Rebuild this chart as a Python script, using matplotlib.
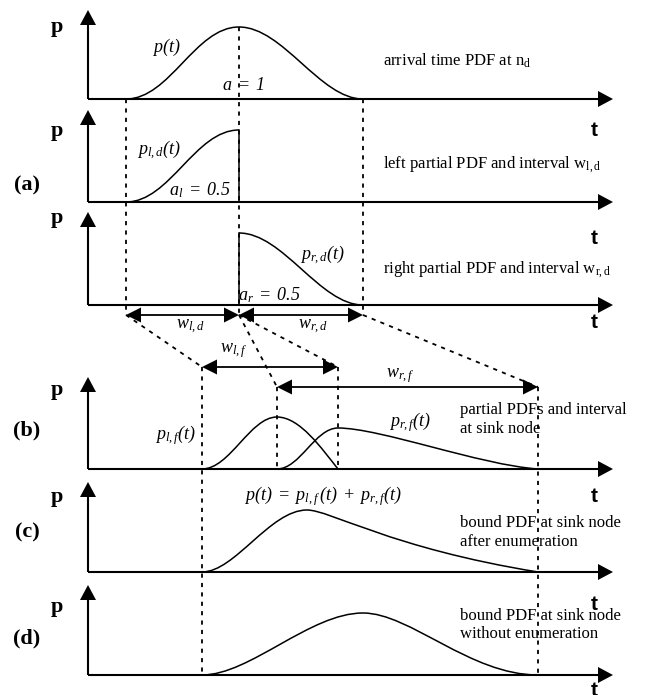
"""
Partial arrival-time PDFs: left/right split at n_d and bound PDF at the sink.
Schematic drawn in pixel coordinates of a 652x695 canvas.
"""

import numpy as np
import matplotlib.pyplot as plt
from matplotlib.path import Path
from matplotlib.patches import PathPatch

plt.rcParams["font.family"] = ["Liberation Serif", "DejaVu Serif"]
plt.rcParams["mathtext.fontset"] = "custom"
# curve labels are italic throughout, digits and brackets included
plt.rcParams["mathtext.rm"] = "Liberation Serif:italic"
plt.rcParams["mathtext.it"] = "Liberation Serif:italic"
plt.rcParams["mathtext.sf"] = "Liberation Serif"  # upright subscripts in notes

# %%
# Layout of the stacked panels (pixel rows)
# -----------------------------------------

AXIS_X = 88
AXIS_END = 613
BASELINES = [99, 202, 305, 469, 572, 675]
AXIS_TOPS = [10, 110, 212, 377, 482, 585]
P_LABEL_Y = [27, 131, 218, 390, 497, 607]
T_LABEL_Y = [130, 238, 323, 497, 605, 690]

PANEL_TAGS = ["(a)", "(b)", "(c)", "(d)"]
PANEL_TAG_Y = [185, 430, 532, 638]

# %%
# Curve control points (cubic Bezier: start, c1, c2, end, c1, c2, end, ...)
# --------------------------------------------------------------------------

CURVE_P = [(126, 99), (170, 99), (195, 27), (239, 27),
           (283, 27), (320, 99), (363, 99)]
CURVE_PLD = [(126, 202), (170, 202), (195, 130), (239, 130)]
CURVE_PRD = [(239, 233), (283, 233), (320, 305), (363, 305)]
CURVE_PLF = [(202, 469), (230, 469), (250, 417), (277, 417),
             (300, 417), (322, 449), (338, 469)]
CURVE_PRF = [(277, 469), (300, 469), (315, 428), (338, 428),
             (380, 428), (480, 465), (538, 469)]
CURVE_SUM = [(202, 572), (235, 572), (270, 510), (307, 510),
             (330, 510), (390, 548), (538, 572)]
CURVE_BOUND = [(202, 675), (250, 675), (310, 613), (363, 613),
               (410, 613), (470, 675), (538, 675)]

# solid drops closing the split PDFs at the mean
DROPS = [(239, 130, 202), (239, 233, 305)]

# dashed guides: (x, y_top, y_bottom)
V_GUIDES = [(126, 99, 315), (239, 27, 315), (363, 99, 315),
            (202, 367, 675), (277, 387, 469), (338, 367, 469), (538, 387, 675)]
# dashed projections from the n_d intervals to the sink intervals
D_GUIDES = [((126, 315), (202, 367)), ((239, 315), (338, 367)),
            ((239, 315), (277, 387)), ((363, 315), (538, 387))]

# interval arrows: (x_left, x_right, y)
INTERVALS = [(126, 239, 315), (239, 363, 315), (202, 338, 367), (277, 538, 387)]


def head(ax, tip, direction, length=14, half=7.5):
    """Filled triangular arrowhead with its point at ``tip``."""
    d = np.asarray(direction, float)
    d /= np.hypot(*d)
    n = np.array([-d[1], d[0]])
    tip = np.asarray(tip, float)
    base = tip - length * d
    pts = np.array([tip, base + half * n, base - half * n])
    ax.fill(pts[:, 0], pts[:, 1], color="k", lw=0, zorder=4)


def bezier(ax, pts, lw=1.1):
    codes = [Path.MOVETO] + [Path.CURVE4] * (len(pts) - 1)
    ax.add_patch(PathPatch(Path(pts, codes), fill=False, lw=lw, color="k",
                           capstyle="butt", zorder=3))


fig = plt.figure(figsize=(6.52, 6.95), dpi=100)
ax = fig.add_axes([0, 0, 1, 1])
ax.set_xlim(0, 652)
ax.set_ylim(695, 0)
ax.axis("off")

# axes of every panel
for base, top, py, ty in zip(BASELINES, AXIS_TOPS, P_LABEL_Y, T_LABEL_Y):
    ax.plot([AXIS_X, AXIS_END - 10], [base, base], color="k", lw=1.5,
            solid_capstyle="butt")
    ax.plot([AXIS_X, AXIS_X], [base, top + 10], color="k", lw=1.5,
            solid_capstyle="butt")
    head(ax, (AXIS_END, base), (1, 0), length=15, half=8)
    head(ax, (AXIS_X, top), (0, -1), length=15, half=8)
    ax.text(57, py, "p", fontsize=16, fontweight="bold", ha="center", va="center")
    ax.text(594, ty, "t", fontsize=15, fontweight="bold", family="Liberation Sans",
            ha="center", va="center")

for tag, ty in zip(PANEL_TAGS, PANEL_TAG_Y):
    ax.text(27, ty, tag, fontsize=16, fontweight="bold", ha="center", va="center")

dash = dict(color="k", lw=1.3, dashes=(2.3, 2.9))
for x, y0, y1 in V_GUIDES:
    ax.plot([x, x], [y0, y1], **dash)
for (x0, y0), (x1, y1) in D_GUIDES:
    ax.plot([x0, x1], [y0, y1], **dash)

for curve in (CURVE_P, CURVE_PLD, CURVE_PRD, CURVE_PLF, CURVE_PRF,
              CURVE_SUM, CURVE_BOUND):
    bezier(ax, curve)
for x, y0, y1 in DROPS:
    ax.plot([x, x], [y0, y1], color="k", lw=1.1)

for xl, xr, y in INTERVALS:
    ax.plot([xl + 10, xr - 10], [y, y], color="k", lw=1.3)
    head(ax, (xl, y), (-1, 0), length=15, half=7.5)
    head(ax, (xr, y), (1, 0), length=15, half=7.5)

# italic labels on the curves
lab = dict(fontsize=13, ha="center", va="center")
ax.text(166, 47, r"$p(t)$", **lab)
ax.text(243, 86, r"$a\;=\;1$", **lab)
ax.text(159, 150, r"$p_{l,d}(t)$", **lab)
ax.text(200, 190, r"$a_l\;=\;0.5$", **lab)
ax.text(323, 255, r"$p_{r,d}(t)$", **lab)
ax.text(269, 295, r"$a_r\;=\;0.5$", **lab)
ax.text(190, 327, r"$w_{l,d}$", **lab)
ax.text(313, 327, r"$w_{r,d}$", **lab)
ax.text(234, 351, r"$w_{l,f}$", **lab)
ax.text(400, 376, r"$w_{r,f}$", **lab)
ax.text(175, 435, r"$p_{l,f}(t)$", **lab)
ax.text(410, 422, r"$p_{r,f}(t)$", **lab)
ax.text(323, 496, r"$p(t)\;=\;p_{l,f}\,(t)\;+\;p_{r,f}(t)$", **lab)

# descriptions on the right
note = dict(fontsize=12, ha="left", va="center")
ax.text(383, 61, r"arrival time PDF at n$_\mathsf{d}$", **note)
ax.text(383, 165, r"left partial PDF and interval w$_\mathsf{l,d}$", **note)
ax.text(383, 270, r"right partial PDF and interval w$_\mathsf{r,d}$", **note)
ax.text(460, 410, "partial PDFs and interval", **note)
ax.text(460, 429, "at sink node", **note)
ax.text(460, 523, "bound PDF at sink node", **note)
ax.text(460, 542, "after enumeration", **note)
ax.text(460, 616, "bound PDF at sink node", **note)
ax.text(460, 634, "without enumeration", **note)

fig.savefig("out.png", dpi=100)
